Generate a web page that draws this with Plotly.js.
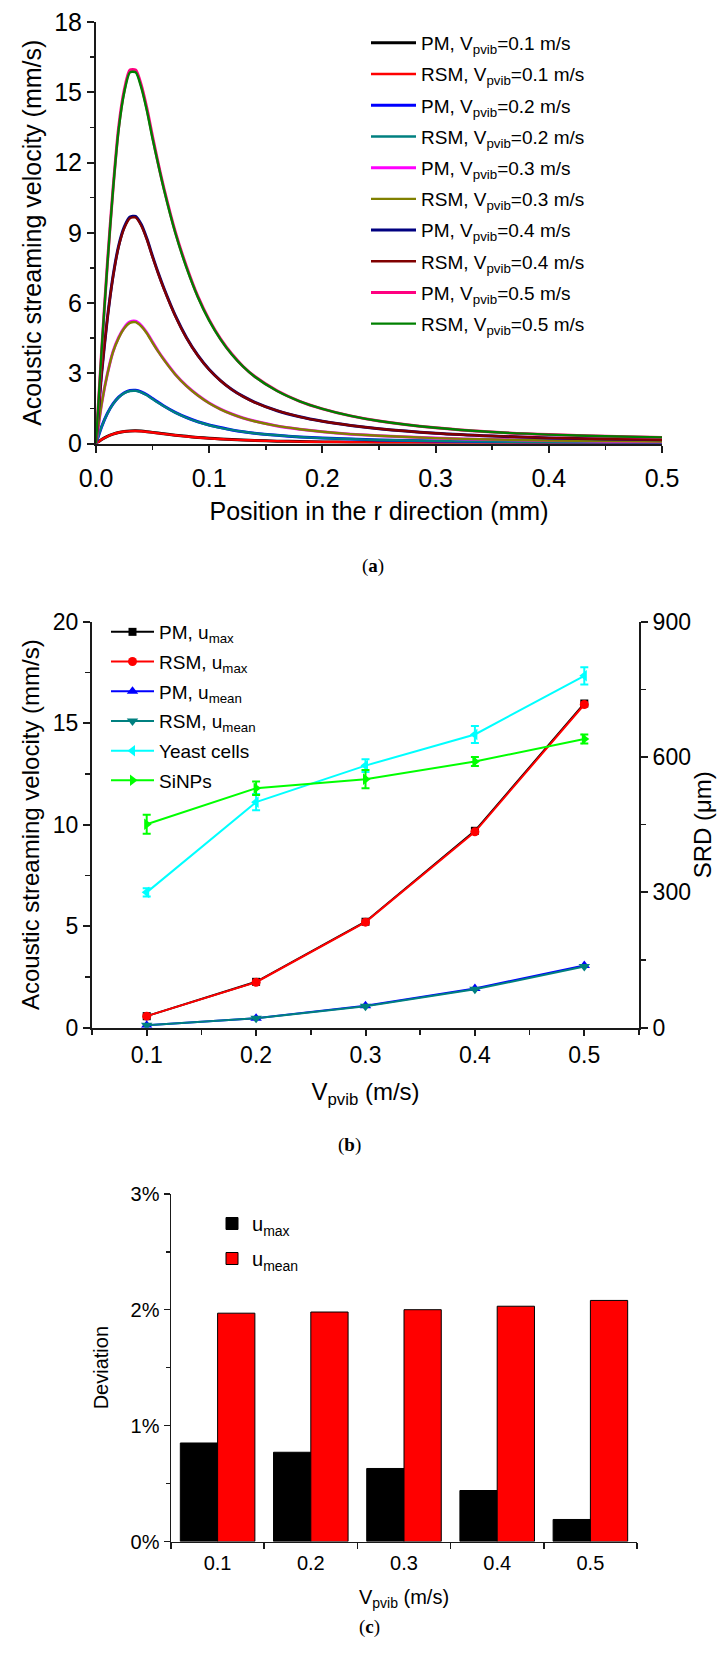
<!DOCTYPE html>
<html><head><meta charset="utf-8">
<script src="https://cdn.plot.ly/plotly-3.0.1.min.js"></script>
<style>html,body{margin:0;padding:0;background:#fff}#chart{width:725px;height:1653px}</style>
</head><body><div id="chart"></div>
<script>
// ---------- Panel (a): streaming velocity profiles ----------
const rPos  = [0, 0.005, 0.01, 0.015, 0.02, 0.025, 0.03, 0.035, 0.04, 0.045, 0.05, 0.055, 0.06, 0.07, 0.08, 0.09, 0.1, 0.11, 0.12, 0.13, 0.14, 0.16, 0.18, 0.2, 0.225, 0.25, 0.3, 0.35, 0.4, 0.45, 0.5];
const pm01  = [0, 0.17, 0.30, 0.40, 0.47, 0.515, 0.535, 0.54, 0.53, 0.505, 0.475, 0.445, 0.415, 0.355, 0.305, 0.26, 0.225, 0.195, 0.168, 0.147, 0.13, 0.101, 0.083, 0.069, 0.056, 0.046, 0.032, 0.024, 0.018, 0.014, 0.011];
const rsm01 = [0, 0.17, 0.30, 0.40, 0.47, 0.51, 0.53, 0.535, 0.525, 0.50, 0.47, 0.44, 0.41, 0.35, 0.30, 0.255, 0.22, 0.19, 0.165, 0.145, 0.128, 0.10, 0.082, 0.068, 0.055, 0.045, 0.032, 0.024, 0.018, 0.014, 0.011];
const pm02  = [0, 0.72, 1.28, 1.69, 1.98, 2.17, 2.26, 2.27, 2.20, 2.08, 1.92, 1.76, 1.60, 1.33, 1.11, 0.93, 0.79, 0.68, 0.58, 0.50, 0.44, 0.35, 0.28, 0.23, 0.19, 0.15, 0.11, 0.08, 0.06, 0.05, 0.04];
const rsm02 = [0, 0.72, 1.27, 1.68, 1.97, 2.15, 2.24, 2.25, 2.18, 2.06, 1.90, 1.74, 1.59, 1.32, 1.10, 0.92, 0.78, 0.67, 0.58, 0.50, 0.44, 0.35, 0.28, 0.23, 0.19, 0.15, 0.11, 0.08, 0.06, 0.05, 0.04];
const pm03  = [0, 1.70, 2.96, 3.92, 4.53, 4.95, 5.19, 5.22, 5.04, 4.73, 4.33, 3.94, 3.59, 2.96, 2.46, 2.06, 1.73, 1.47, 1.26, 1.09, 0.96, 0.75, 0.61, 0.50, 0.40, 0.33, 0.23, 0.17, 0.13, 0.10, 0.08];
const rsm03 = [0, 1.70, 2.95, 3.90, 4.50, 4.92, 5.15, 5.18, 5.00, 4.70, 4.30, 3.92, 3.57, 2.95, 2.45, 2.05, 1.72, 1.46, 1.25, 1.08, 0.95, 0.75, 0.61, 0.50, 0.40, 0.33, 0.23, 0.17, 0.13, 0.10, 0.08];
const pm04  = [0, 3.00, 5.32, 7.13, 8.44, 9.25, 9.67, 9.70, 9.35, 8.74, 7.99, 7.28, 6.63, 5.47, 4.52, 3.76, 3.16, 2.69, 2.31, 2.01, 1.77, 1.40, 1.14, 0.95, 0.77, 0.63, 0.44, 0.32, 0.24, 0.19, 0.16];
const rsm04 = [0, 3.00, 5.30, 7.10, 8.40, 9.20, 9.62, 9.65, 9.30, 8.70, 7.95, 7.25, 6.60, 5.45, 4.50, 3.75, 3.15, 2.68, 2.30, 2.00, 1.76, 1.40, 1.14, 0.95, 0.77, 0.63, 0.44, 0.32, 0.24, 0.19, 0.16];
const pm05  = [0, 4.00, 7.65, 10.85, 13.5, 15.1, 15.95, 15.95, 15.3, 14.3, 13.1, 11.95, 10.9, 9.05, 7.55, 6.28, 5.28, 4.47, 3.82, 3.29, 2.87, 2.25, 1.80, 1.48, 1.18, 0.96, 0.67, 0.49, 0.38, 0.31, 0.26];
const rsm05 = [0, 4.00, 7.60, 10.80, 13.4, 15.0, 15.85, 15.85, 15.2, 14.2, 13.0, 11.90, 10.85, 9.00, 7.50, 6.25, 5.25, 4.45, 3.80, 3.28, 2.86, 2.24, 1.80, 1.48, 1.18, 0.96, 0.67, 0.49, 0.38, 0.31, 0.26];
const curveNames = ['PM, V<sub>pvib</sub>=0.1 m/s','RSM, V<sub>pvib</sub>=0.1 m/s','PM, V<sub>pvib</sub>=0.2 m/s','RSM, V<sub>pvib</sub>=0.2 m/s','PM, V<sub>pvib</sub>=0.3 m/s','RSM, V<sub>pvib</sub>=0.3 m/s','PM, V<sub>pvib</sub>=0.4 m/s','RSM, V<sub>pvib</sub>=0.4 m/s','PM, V<sub>pvib</sub>=0.5 m/s','RSM, V<sub>pvib</sub>=0.5 m/s'];
const curveData = [pm01, rsm01, pm02, rsm02, pm03, rsm03, pm04, rsm04, pm05, rsm05];
const curveColors = ['#000000','#FF0000','#0000FF','#008080','#FF00FF','#808000','#000080','#800000','#FF0080','#008000'];

// ---------- Panel (b): velocity vs V_pvib, with SRD ----------
const vpvib = [0.1, 0.2, 0.3, 0.4, 0.5];
const pmUmax   = [0.57, 2.26, 5.22, 9.70, 15.97];
const rsmUmax  = [0.57, 2.24, 5.20, 9.65, 15.92];
const pmUmean  = [0.12, 0.47, 1.08, 1.93, 3.07];
const rsmUmean = [0.12, 0.46, 1.06, 1.89, 3.01];
const yeastSRD = [300, 500, 581, 650, 780];
const yeastErr = [9, 18, 14, 19, 19];
const sinpSRD  = [451, 531, 551, 590, 640];
const sinpErr  = [21, 15, 20, 10, 10];

// ---------- Panel (c): deviation ----------
const vCats = ['0.1', '0.2', '0.3', '0.4', '0.5'];
const devUmax  = [0.0085, 0.0077, 0.0063, 0.0044, 0.0019];
const devUmean = [0.0197, 0.0198, 0.0200, 0.0203, 0.0208];

// ---------- layout helpers ----------
const W = 725, H = 1653;
const px = p => p / W;
const py = p => 1 - p / H;
const F = 'Liberation Sans, Arial, Helvetica, sans-serif';
const SERIF = 'Liberation Serif, Times New Roman, serif';
const AX = '#1a1a1a';

const traces = [];
curveData.forEach((d, i) => {
  traces.push({
    type: 'scatter', mode: 'lines', x: rPos, y: d, name: curveNames[i],
    line: {color: curveColors[i], width: i % 2 === 0 ? 3 : 2.4, shape: 'spline', smoothing: 0.7},
    xaxis: 'x', yaxis: 'y', legend: 'legend', legendgroup: 'a' + i
  });
});

const bSeries = [
  {y: pmUmax,   name: 'PM, u<sub>max</sub>',    c: '#000000', s: 'square',        sz: 8,  ax: 'y2'},
  {y: rsmUmax,  name: 'RSM, u<sub>max</sub>',   c: '#FF0000', s: 'circle',        sz: 9,  ax: 'y2'},
  {y: pmUmean,  name: 'PM, u<sub>mean</sub>',   c: '#0000FF', s: 'triangle-up',   sz: 10, ax: 'y2'},
  {y: rsmUmean, name: 'RSM, u<sub>mean</sub>',  c: '#008080', s: 'triangle-down', sz: 10, ax: 'y2'},
  {y: yeastSRD, name: 'Yeast cells', c: '#00FFFF', s: 'triangle-left',  sz: 10, ax: 'y3', err: yeastErr},
  {y: sinpSRD,  name: 'SiNPs',       c: '#00FF00', s: 'triangle-right', sz: 10, ax: 'y3', err: sinpErr}
];
bSeries.forEach((s, i) => {
  const t = {
    type: 'scatter', mode: 'lines+markers', x: vpvib, y: s.y, name: s.name,
    line: {color: s.c, width: 2}, marker: {color: s.c, symbol: s.s, size: s.sz},
    xaxis: 'x2', yaxis: s.ax, legend: 'legend2', legendgroup: 'b' + i
  };
  if (s.err) t.error_y = {type: 'data', array: s.err, visible: true, color: s.c, thickness: 2, width: 4};
  traces.push(t);
});

traces.push({type: 'bar', x: vCats, y: devUmax, name: 'u<sub>max</sub>', marker: {color: '#000000', line: {color: '#000', width: 1}}, xaxis: 'x3', yaxis: 'y4', legend: 'legend3', legendgroup: 'c0'});
traces.push({type: 'bar', x: vCats, y: devUmean, name: 'u<sub>mean</sub>', marker: {color: '#FF0000', line: {color: '#000', width: 1}}, xaxis: 'x3', yaxis: 'y4', legend: 'legend3', legendgroup: 'c1'});

function axis(o) {
  return Object.assign({
    showline: true, linecolor: AX, linewidth: 2, mirror: false,
    ticks: 'outside', ticklen: 7, tickwidth: 2, tickcolor: AX,
    showgrid: false, zeroline: false, automargin: false, fixedrange: true
  }, o);
}
const tf = s => ({family: F, size: s, color: '#000'});

const layout = {
  width: W, height: H, margin: {l: 0, r: 0, t: 0, b: 0},
  paper_bgcolor: '#fff', plot_bgcolor: 'rgba(0,0,0,0)',
  font: {family: F, color: '#000'},
  barmode: 'group', bargap: 0.2, bargroupgap: 0,
  xaxis: axis({domain: [px(96), px(662)], anchor: 'y', range: [0, 0.5], tick0: 0, dtick: 0.1, tickformat: '.1f', ticklabelstandoff: 4,
    minor: {ticks: 'outside', dtick: 0.05, ticklen: 4, tickwidth: 1.5, tickcolor: AX},
    tickfont: tf(25), title: {text: 'Position in the r direction (mm)', font: tf(25), standoff: 12}}),
  yaxis: axis({domain: [py(443.5), py(22)], anchor: 'x', range: [0, 18], tick0: 0, dtick: 3,
    minor: {ticks: 'outside', dtick: 1.5, ticklen: 4, tickwidth: 1.5, tickcolor: AX},
    tickfont: tf(25), title: {text: 'Acoustic streaming velocity (mm/s)', font: tf(25), standoff: 5}}),
  xaxis2: axis({domain: [px(92), px(639)], anchor: 'y2', range: [0.05, 0.55], tickvals: vpvib, tickformat: '.1f', ticklen: 6,
    minor: {ticks: 'outside', tickvals: [0.05, 0.15, 0.25, 0.35, 0.45, 0.55], ticklen: 5, tickwidth: 1.5, tickcolor: AX},
    tickfont: tf(23), title: {text: 'V<sub>pvib</sub> (m/s)', font: tf(24), standoff: 16}}),
  yaxis2: axis({domain: [py(1027.7), py(621.7)], anchor: 'x2', range: [0, 20], tick0: 0, dtick: 5,
    minor: {ticks: 'outside', dtick: 2.5, ticklen: 5, tickwidth: 1.5, tickcolor: AX},
    tickfont: tf(23), title: {text: 'Acoustic streaming velocity (mm/s)', font: tf(24), standoff: 6}}),
  yaxis3: axis({overlaying: 'y2', side: 'right', anchor: 'x2', range: [0, 900], tick0: 0, dtick: 300,
    minor: {ticks: 'outside', dtick: 150, ticklen: 5, tickwidth: 1.5, tickcolor: AX},
    tickfont: tf(23), title: {text: 'SRD (μm)', font: tf(24), standoff: 4}}),
  xaxis3: axis({domain: [px(171), px(637)], anchor: 'y4', type: 'category', range: [-0.5, 4.5], tickson: 'boundaries',
    linewidth: 1.5, tickwidth: 1.5, ticklen: 6, ticklabelstandoff: 3,
    tickfont: tf(20), title: {text: 'V<sub>pvib</sub> (m/s)', font: tf(20), standoff: 17}}),
  yaxis4: axis({domain: [py(1541.5), py(1193.8)], anchor: 'x3', range: [0, 0.03], tickvals: [0, 0.01, 0.02, 0.03], tickformat: '.0%',
    linewidth: 1.5, tickwidth: 1.5, ticklen: 6,
    minor: {ticks: 'outside', tickvals: [0.005, 0.015, 0.025], ticklen: 4, tickwidth: 1.5, tickcolor: AX},
    tickfont: tf(20), title: {text: 'Deviation', font: tf(20), standoff: 16}}),
  legend: {x: px(366), y: py(24), xanchor: 'left', yanchor: 'top', bgcolor: 'rgba(0,0,0,0)', borderwidth: 0,
    font: tf(19), itemwidth: 45, tracegroupgap: 3.5, itemclick: false, itemdoubleclick: false},
  legend2: {x: px(106), y: py(613), xanchor: 'left', yanchor: 'top', bgcolor: 'rgba(0,0,0,0)', borderwidth: 0,
    font: tf(19), itemwidth: 43, tracegroupgap: 2, itemclick: false, itemdoubleclick: false},
  legend3: {x: px(212), y: py(1204), xanchor: 'left', yanchor: 'top', bgcolor: 'rgba(0,0,0,0)', borderwidth: 0,
    font: tf(20), tracegroupgap: 6, itemclick: false, itemdoubleclick: false},
  annotations: [
    {text: '(<b>a</b>)', x: px(373), y: py(566), xref: 'paper', yref: 'paper', showarrow: false, font: {family: SERIF, size: 19, color: '#000'}},
    {text: '(<b>b</b>)', x: px(349), y: py(1158), xref: 'paper', yref: 'paper', showarrow: false, font: {family: SERIF, size: 19, color: '#000'}},
    {text: '(<b>c</b>)', x: px(369), y: py(1640), xref: 'paper', yref: 'paper', showarrow: false, font: {family: SERIF, size: 19, color: '#000'}}
  ]
};

Plotly.newPlot('chart', traces, layout, {displayModeBar: false, staticPlot: true});
</script>
</body></html>
